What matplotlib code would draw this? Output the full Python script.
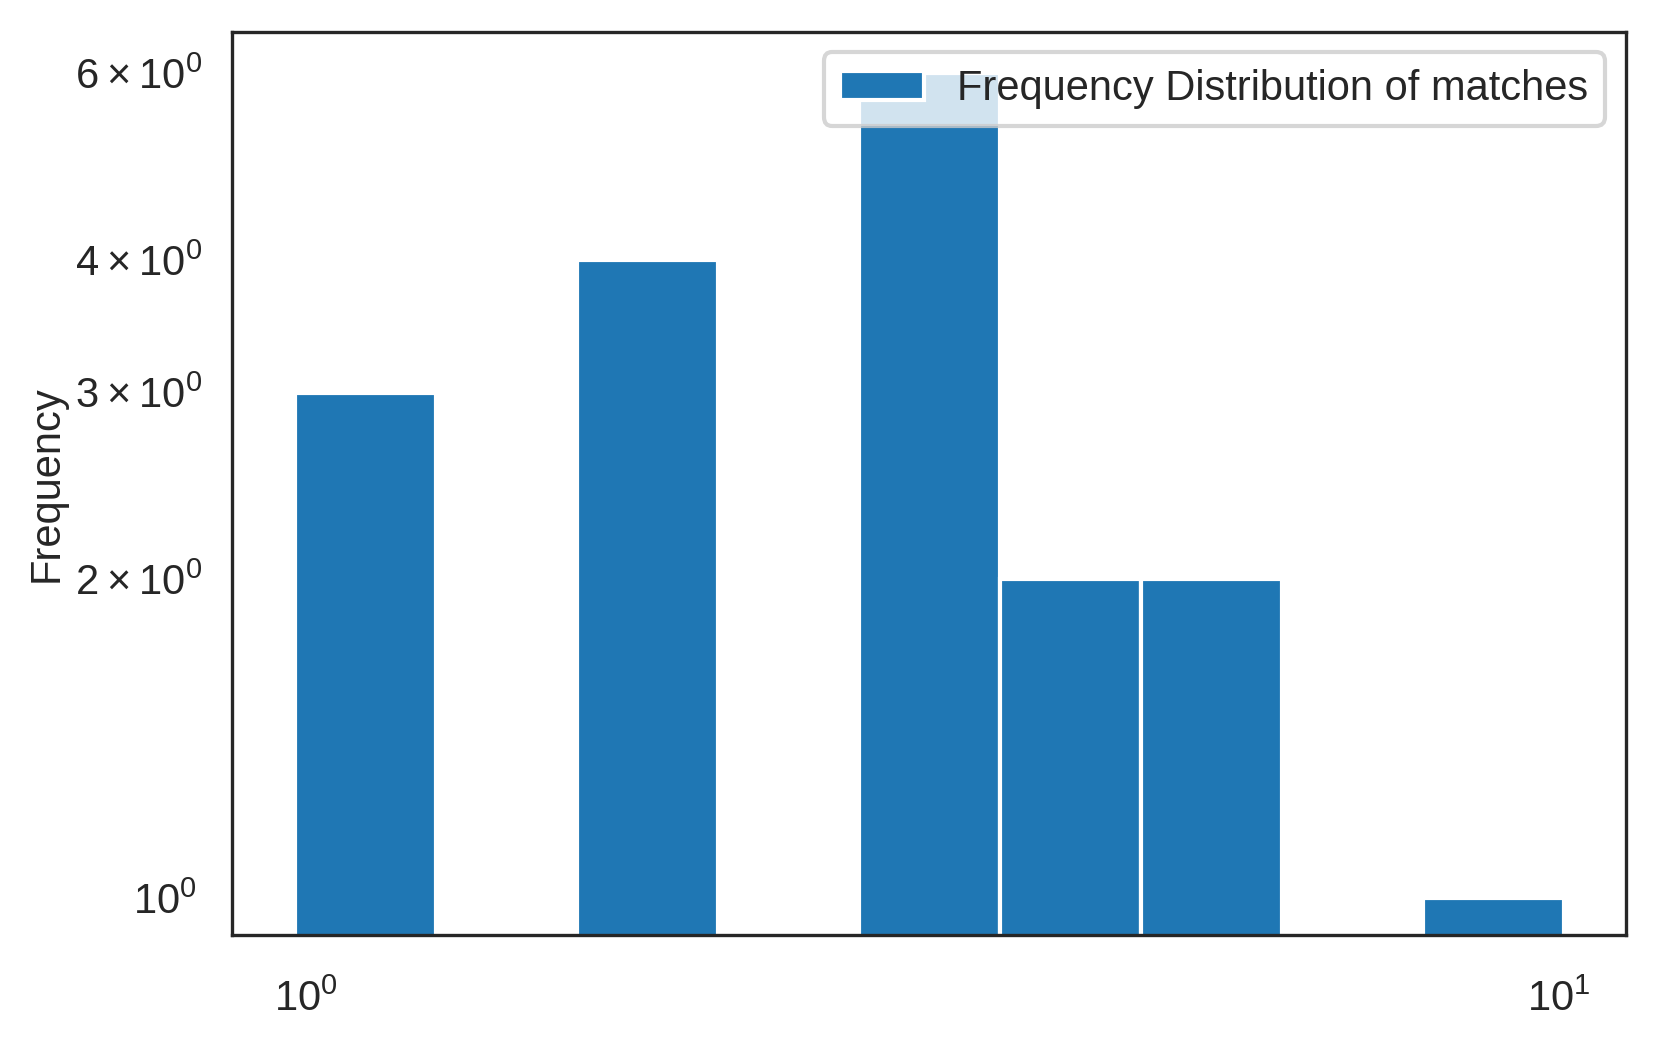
import numpy as np
import matplotlib
matplotlib.use("Agg")
from matplotlib import pyplot as plt
import seaborn as sns

# bin edges (log spaced) and counts
bin_lo = 0.981
bin_hi = 10.09
n_bins = 9
counts = [3, 0, 4, 0, 6, 2, 2, 0, 1]

sns.set_style("white")
plt.rcParams['font.family'] = ['Liberation Sans', 'DejaVu Sans']
plt.rcParams['xtick.major.pad'] = 7
plt.rcParams['xtick.minor.pad'] = 7
plt.rcParams['ytick.major.pad'] = 5
plt.rcParams['ytick.minor.pad'] = 5

edges = np.logspace(np.log10(bin_lo), np.log10(bin_hi), n_bins + 1)
centers = np.sqrt(edges[:-1] * edges[1:])

fig = plt.figure(figsize=(1657 / 300, 1051 / 300), dpi=300)
ax = fig.add_axes([0.140, 0.110, 0.841, 0.860])
ax.hist(centers, bins=edges, weights=counts, color="#1f77b4",
        edgecolor="white", linewidth=1, label="Frequency Distribution of matches")
ax.set_xscale("log")
ax.set_yscale("log")
ax.set_xlim(10 ** -0.059, 10 ** 1.053)
ax.set_ylim(0.923, 6.57)
ax.set_ylabel("Frequency")
ax.yaxis.set_label_coords(-0.119, 0.5)
ax.legend(loc="upper right")

fig.savefig("out.png", dpi=300)
